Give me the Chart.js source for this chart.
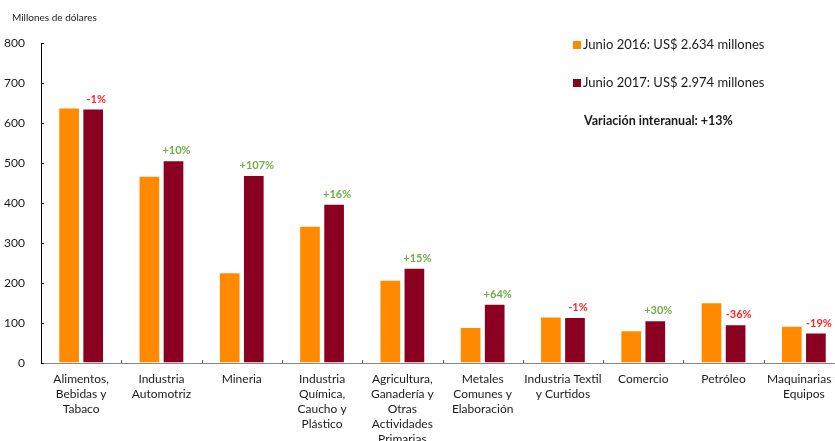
<!DOCTYPE html>
<html lang="es">
<head>
<meta charset="utf-8">
<title>Exportaciones por sector</title>
<script src="https://cdn.jsdelivr.net/npm/chart.js@4.4.1/dist/chart.umd.min.js"></script>
<style>
    html, body { margin: 0; padding: 0; background: #fff; overflow: hidden; }
    #wrap { position: relative; width: 850px; height: 441px; }
</style>
</head>
<body>
<div id="wrap"><canvas id="chart"></canvas></div>
<script>
// Exportaciones por sector, junio 2016 vs junio 2017 (millones de US$)
const sectores = [
    ['Alimentos,', 'Bebidas y', 'Tabaco'],
    ['Industria', 'Automotriz'],
    ['Mineria'],
    ['Industria', 'Química,', 'Caucho y', 'Plástico'],
    ['Agricultura,', 'Ganadería y', 'Otras', 'Actividades', 'Primarias'],
    ['Metales', 'Comunes y', 'Elaboración'],
    ['Industria Textil', 'y Curtidos'],
    ['Comercio'],
    ['Petróleo'],
    ['Maquinarias y', 'Equipos']
];
const junio2016 = [639, 468, 227, 343, 208, 90, 116, 82, 152, 93];
const junio2017 = [636, 507, 470, 398, 238, 148, 115, 107, 97, 76];
const variacion = ['-1%', '+10%', '+107%', '+16%', '+15%', '+64%', '-1%', '+30%', '-36%', '-19%'];
const yTicks = [0, 100, 200, 300, 400, 500, 600, 700, 800];
const leyendas = ['Junio 2016: US$ 2.634 millones', 'Junio 2017: US$ 2.974 millones'];
const variacionTotal = 'Variación interanual: +13%';
const unidad = 'Millones de dólares';

const FONT = 'Lato, "Open Sans", sans-serif';
const colors = {
    orange: '#ff8a00',
    maroon: '#8b0021',
    text: '#1a1a1a',
    up: '#70ad47',
    down: '#ff2222'
};

// small tick marks pointing into the plot area
const innerTicks = {
    id: 'innerTicks',
    afterDatasetsDraw(chart) {
        const { ctx, chartArea, scales: { x, y } } = chart;
        ctx.save();
        ctx.lineWidth = 1;
        ctx.strokeStyle = '#000';
        y.ticks.forEach((t, i) => {
            const py = Math.round(y.getPixelForTick(i)) + 0.5;
            ctx.beginPath();
            ctx.moveTo(chartArea.left, py);
            ctx.lineTo(chartArea.left + 3, py);
            ctx.stroke();
        });
        ctx.strokeStyle = '#555';
        const half = (x.getPixelForTick(1) - x.getPixelForTick(0)) / 2;
        x.ticks.forEach((t, i) => {
            const px = Math.round(x.getPixelForTick(i) + half) + 0.5;
            ctx.beginPath();
            ctx.moveTo(px, chartArea.bottom);
            ctx.lineTo(px, chartArea.bottom - 3);
            ctx.stroke();
        });
        ctx.restore();
    }
};

// year-on-year change above each 2017 bar
const variacionLabels = {
    id: 'variacionLabels',
    afterDatasetsDraw(chart) {
        const { ctx } = chart;
        const meta = chart.getDatasetMeta(1);
        ctx.save();
        ctx.font = 'bold 11px ' + FONT;
        ctx.textAlign = 'center';
        ctx.textBaseline = 'bottom';
        meta.data.forEach((bar, i) => {
            ctx.fillStyle = variacion[i].startsWith('-') ? colors.down : colors.up;
            ctx.fillText(variacion[i], bar.x + 3, bar.y - 4);
        });
        ctx.restore();
    }
};

// unit caption, legend and total change
const annotations = {
    id: 'annotations',
    afterDraw(chart) {
        const { ctx } = chart;
        ctx.save();
        ctx.fillStyle = colors.text;
        ctx.textBaseline = 'middle';
        ctx.font = '10px ' + FONT;
        ctx.fillText(unidad, 12, 18);

        ctx.font = '13px ' + FONT;
        const rows = [45, 83];
        chart.data.datasets.forEach((ds, i) => {
            ctx.fillStyle = ds.backgroundColor;
            ctx.fillRect(573, rows[i] - 4, 8, 8);
            ctx.fillStyle = colors.text;
            ctx.fillText(ds.label, 583, rows[i]);
        });

        ctx.font = 'bold 12.5px ' + FONT;
        ctx.fillText(variacionTotal, 584, 121);
        ctx.restore();
    }
};

new Chart(document.getElementById('chart'), {
    type: 'bar',
    data: {
        labels: sectores,
        datasets: [
            {
                label: leyendas[0],
                data: junio2016,
                backgroundColor: colors.orange,
                borderColor: 'rgba(255,255,255,0.45)',
                borderWidth: 1,
                borderSkipped: 'bottom'
            },
            {
                label: leyendas[1],
                data: junio2017,
                backgroundColor: colors.maroon,
                borderColor: 'rgba(255,255,255,0.45)',
                borderWidth: 1,
                borderSkipped: 'bottom'
            }
        ]
    },
    options: {
        responsive: true,
        maintainAspectRatio: false,
        animation: false,
        datasets: {
            bar: {
                categoryPercentage: 0.6,
                barPercentage: 0.9
            }
        },
        layout: {
            padding: { top: 43, right: 6, left: 0, bottom: 0 }
        },
        plugins: {
            legend: { display: false },
            tooltip: { enabled: false }
        },
        scales: {
            x: {
                grid: { display: true, drawOnChartArea: false, drawTicks: false },
                border: { display: true, color: '#888', width: 1 },
                ticks: {
                    color: colors.text,
                    padding: 9,
                    maxRotation: 0,
                    autoSkip: false,
                    font: { family: FONT, size: 12, lineHeight: 1.25 }
                },
                afterFit(scale) { scale.height = 78; }
            },
            y: {
                min: yTicks[0],
                max: yTicks[yTicks.length - 1],
                afterBuildTicks(scale) {
                    scale.ticks = yTicks.map(v => ({ value: v }));
                },
                grid: { display: true, drawOnChartArea: false, drawTicks: false },
                border: { display: true, color: '#000', width: 1 },
                ticks: {
                    color: colors.text,
                    padding: 16,
                    font: { family: FONT, size: 12 }
                },
                afterFit(scale) { scale.width = 41; }
            }
        }
    },
    plugins: [innerTicks, variacionLabels, annotations]
});
</script>
</body>
</html>
